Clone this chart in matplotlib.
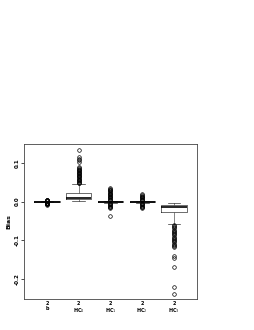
import matplotlib
matplotlib.use("Agg")
import matplotlib.pyplot as plt

categories = ["b", "HC$_0$", "HC$_1$", "HC$_2$", "HC$_3$"]
medians = [0.0, 0.0103, 0.0, 0.0, -0.013]
q1s = [-0.0008, 0.006, -0.001, -0.001, -0.0276]
q3s = [0.0008, 0.0225, 0.001, 0.001, -0.0078]
whis_lo = [-0.002, 0.0026, -0.0025, -0.0025, -0.0586]
whis_hi = [0.002, 0.046, 0.0025, 0.0025, -0.0026]
fliers_b = [-0.008, -0.007, -0.006, -0.005, -0.0045, -0.004, -0.0035, -0.003, -0.0025,
            0.0025, 0.003, 0.0035, 0.004, 0.0045, 0.005]
fliers_hc0 = [0.047, 0.049, 0.051, 0.053, 0.055, 0.057, 0.059, 0.061, 0.063, 0.065,
              0.067, 0.069, 0.071, 0.073, 0.075, 0.077, 0.079, 0.081, 0.083, 0.085,
              0.087, 0.09, 0.103, 0.108, 0.111, 0.116, 0.134]
fliers_hc1 = [-0.036, -0.017, -0.015, -0.013, -0.011, -0.009, -0.007, -0.005, -0.0035,
              0.0035, 0.005, 0.007, 0.009, 0.011, 0.013, 0.015, 0.017, 0.019, 0.021,
              0.023, 0.025, 0.027, 0.029, 0.031, 0.033, 0.036]
fliers_hc2 = [-0.017, -0.015, -0.013, -0.011, -0.009, -0.007, -0.005, -0.0035,
              0.0035, 0.005, 0.007, 0.009, 0.011, 0.013, 0.015, 0.017, 0.02]
fliers_hc3 = [-0.06, -0.063, -0.066, -0.069, -0.072, -0.075, -0.078, -0.081, -0.084,
              -0.087, -0.09, -0.093, -0.096, -0.099, -0.102, -0.105, -0.108, -0.111,
              -0.114, -0.118, -0.14, -0.146, -0.168, -0.22, -0.237]
all_fliers = [fliers_b, fliers_hc0, fliers_hc1, fliers_hc2, fliers_hc3]
yticks = [-0.2, -0.1, 0.0, 0.1]
ytick_labels = ["-0.2", "-0.1", "0.0", "0.1"]

fig = plt.figure(figsize=(2.55, 3.3), dpi=100)
ax = fig.add_axes([24.3 / 255, 1 - 299 / 330, (197 - 24.3) / 255, (299 - 144.3) / 330])

stats = []
for i in range(len(categories)):
    stats.append(dict(med=medians[i], q1=q1s[i], q3=q3s[i], whislo=whis_lo[i],
                      whishi=whis_hi[i], fliers=all_fliers[i], label=""))

ax.bxp(stats, positions=range(1, len(categories) + 1), widths=0.8,
       boxprops=dict(color="#333333", linewidth=0.5),
       medianprops=dict(color="black", linewidth=1.2),
       whiskerprops=dict(color="#555555", linewidth=0.5),
       capprops=dict(color="#333333", linewidth=0.5),
       capwidths=0.4,
       flierprops=dict(marker="o", markerfacecolor="none", markeredgecolor="black",
                       markersize=2.6, markeredgewidth=0.5))

ax.set_xlim(0.28, 5.73)
ax.set_ylim(-0.251, 0.148)
ax.set_yticks(yticks)
ax.set_yticklabels(ytick_labels, rotation=90, va="center", fontsize=4, fontweight="bold")
ax.set_xticks(range(1, len(categories) + 1))
ax.set_xticklabels(["2\n" + c for c in categories], fontsize=3.5, linespacing=1.0,
                   fontweight="bold")
ax.tick_params(axis="y", length=2, width=0.5, pad=1.5)
ax.tick_params(axis="x", length=0, pad=1.5)
for s in ax.spines.values():
    s.set_linewidth(0.6)
    s.set_color("#444444")
ax.set_ylabel("Bias", fontsize=4.5, fontweight="bold", labelpad=2)

fig.savefig("out.png", dpi=100)
